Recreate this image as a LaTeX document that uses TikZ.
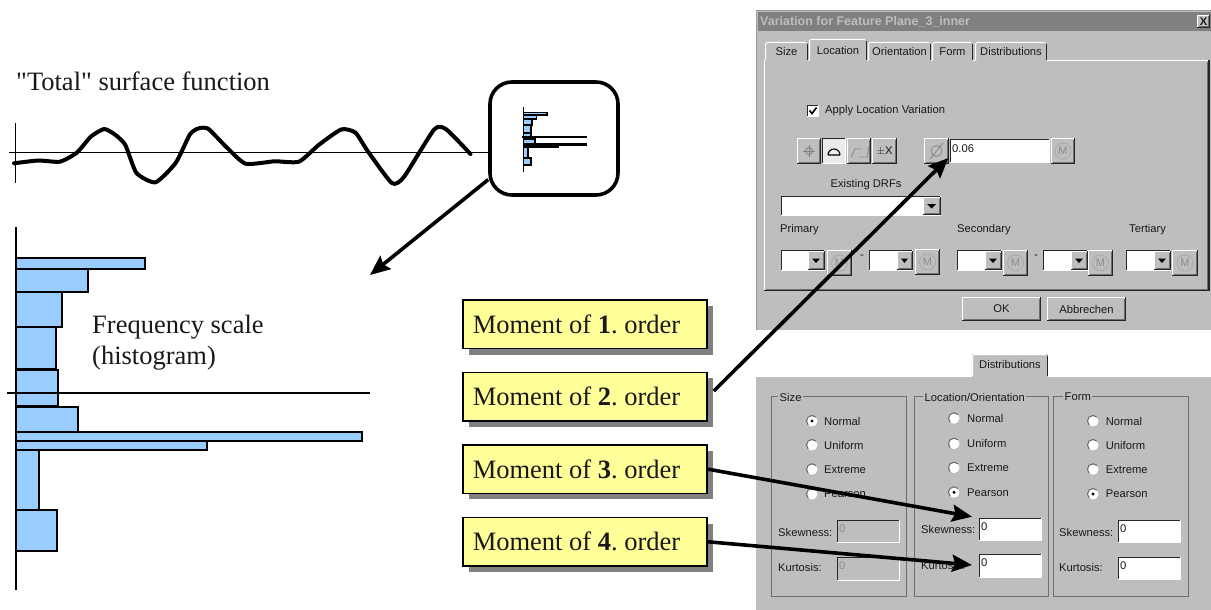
\documentclass[tikz,border=0pt]{standalone}
\usepackage{fontspec}
\setmainfont{Liberation Serif}
\newfontfamily\plainserif{Liberation Serif}[Ligatures=ResetAll]
\newfontfamily\guifont{Liberation Sans}
\usetikzlibrary{arrows.meta,shadows,calc}
\definecolor{panelgray}{HTML}{BEBEBE}
\definecolor{darkedge}{HTML}{6E6E6E}
\definecolor{barblue}{HTML}{99CCFF}
\definecolor{noteyellow}{HTML}{FFFF99}
\definecolor{titlegray}{HTML}{808080}
\definecolor{shadowgray}{HTML}{808080}
\definecolor{disabledgray}{HTML}{8C8C8C}
\newcounter{gn}
\frenchspacing
\tikzset{
  guitext/.style={font=\guifont\fontsize{11.2}{13}\selectfont,text=black!90,inner sep=0pt,anchor=west},
  bigtext/.style={font=\fontsize{26.5}{31}\selectfont,inner sep=0pt,anchor=base west,text=black!90},
  notebox/.style={draw=black,line width=1.7pt,fill=noteyellow,minimum width=244pt,minimum height=48.5pt,
    text width=225pt,inner sep=0pt,align=flush left,font=\fontsize{26.5}{31}\selectfont\frenchspacing,text=black!90,
    text height=18pt,text depth=0pt,
    general shadow={fill=shadowgray,shadow xshift=6pt,shadow yshift=-6pt}},
  bigarrow/.style={line width=3.6pt,-{Stealth[length=20pt,width=17pt,inset=3pt]},black},
  histbar/.style={draw=black,fill=barblue},
}
% GUI helpers: raised box, sunken field, text, radio, M button, combo
\newcommand\gtxt[2]{\stepcounter{gn}\node[guitext] (g\arabic{gn}) at (#1) {#2};}
\newcommand\gtxtc[2]{\stepcounter{gn}\node[guitext,anchor=center] (g\arabic{gn}) at (#1) {#2};}
\newcommand\raisedbox[4]{%
  \fill[panelgray] (#1,#2) rectangle (#3,#4);
  \draw[white,line width=1pt] (#1+.5,#4-.5) -- (#1+.5,#2+.5) -- (#3-.5,#2+.5);
  \draw[black!85,line width=1.2pt] (#1,#4-.5) -- (#3-.5,#4-.5) -- (#3-.5,#2);
  \draw[darkedge,line width=1pt] (#1+1.5,#4-1.6) -- (#3-1.6,#4-1.6) -- (#3-1.6,#2+1.5);
}
\newcommand\sunkbox[5][white]{%
  \fill[#1] (#2,#3) rectangle (#4,#5);
  \draw[black!85,line width=1.2pt] (#2+.5,#5-.5) -- (#2+.5,#3+.5) -- (#4-.5,#3+.5);
  \draw[white,line width=1pt] (#2,#5-.5) -- (#4-.5,#5-.5) -- (#4-.5,#3);
}
\newcommand\mbutton[4]{%
  \raisedbox{#1}{#2}{#3}{#4}
  \draw[black!35,line width=.7pt] ({(#1+#3)/2},{(#2+#4)/2}) circle (8);
  \stepcounter{gn}\node[guitext,anchor=center,text=black!45,font=\guifont\fontsize{11}{13}\selectfont] (g\arabic{gn}) at ({(#1+#3)/2},{(#2+#4)/2}) {M};
}
\newcommand\combo[5]{% x1 y1 x2 y2 arrow-left
  \sunkbox{#1}{#2}{#3}{#4}
  \raisedbox{#5}{#2+1}{#3}{#4-1}
  \fill[black] (#5+4,{(#2+#4)/2-2}) -- (#3-5,{(#2+#4)/2-2}) -- ({(#5+#3)/2-.5},{(#2+#4)/2+2.5}) -- cycle;
}
\newcommand\radio[3]{% x y selected
  \fill[white] (#1,#2) circle (5.5);
  \draw[darkedge,line width=1.1pt] (#1-3.9,#2+3.9) arc[start angle=135,end angle=315,radius=5.5];
  \ifnum#3=1 \fill[black] (#1,#2) circle (1.7); \fi
}
\newcommand\groupbox[4]{%
  \draw[white,line width=.8pt] (#1+.8,#2+.8) rectangle (#3+.8,#4+.8);
  \draw[darkedge,line width=.8pt] (#1,#2) rectangle (#3,#4);
}
\newcommand\grouptitle[2]{\stepcounter{gn}\node[guitext,fill=panelgray,inner xsep=1.5pt] (g\arabic{gn}) at (#1) {#2};}
\newcommand\histogram[1]{%
  \foreach \ya/\yb/\xr in {258/269.3/145.3,269.3/291.7/88.3,291.7/327.3/61.7,327.3/369/55.7,370/406/58.3,406.7/432/77.7,432/441.3/361.7,441.3/450.3/206.7,450.3/510/39.3,510/551/56.7}
    {\draw[histbar,line width=#1] (16,\ya) rectangle (\xr,\yb);}
  \draw[black,line width=1.8pt] (16,227) -- (16,590);
  \draw[black,line width=1.8pt] (7,392.7) -- (370,392.7);
}
\begin{document}
\begin{tikzpicture}[x=1pt,y=-1pt]
\useasboundingbox (0,0) rectangle (1211,610);
\fill[white] (0,0) rectangle (1211,610);

% ---------- dialog 1
\fill[panelgray] (756,11) rectangle (1211,330);
\draw[darkedge!70,line width=1pt] (756.5,330) -- (756.5,11) -- (1211,11);
\fill[titlegray] (758,12.5) rectangle (1211,31);
\stepcounter{gn}\node[guitext,text=panelgray,font=\guifont\bfseries\fontsize{12.5}{14}\selectfont] (g\arabic{gn}) at (760,21.5) {Variation for Feature Plane\_3\_inner};
\raisedbox{1197}{15}{1210}{28}
\gtxtc{1203.5,21.5}{\textbf{X}}
% panel
\draw[white,line width=1pt] (764.5,290.5) -- (764.5,60.5) -- (1209,60.5);
\draw[black!85,line width=1.2pt] (764,290.5) -- (1209,290.5) -- (1209,60);
\draw[darkedge,line width=1pt] (766,289) -- (1207.5,289) -- (1207.5,62);
% tabs
\foreach \xa/\xb/\yt/\lab in {765/808/42/Size,868/931/42/Orientation,932/973/42/Form,975/1047/42/Distributions,809/867/39/Location}{
  \fill[panelgray] (\xa,\yt) rectangle (\xb,61);
  \draw[white,line width=1pt] (\xa+.5,60.5) -- (\xa+.5,\yt+2) -- (\xa+2,\yt+.5) -- (\xb-2,\yt+.5);
  \draw[black!85,line width=1.2pt] (\xb-.5,\yt+2) -- (\xb-.5,60);
  \gtxtc{{(\xa+\xb)/2},{(\yt+60)/2+.5}}{\lab}
}
% apply checkbox
\sunkbox{807}{105}{819}{117}
\draw[black,line width=1.6pt] (809.5,110.5) -- (812,113.5) -- (816.5,107.5);
\gtxt{825,111}{Apply Location Variation}
% tool buttons
\raisedbox{797}{138}{821}{164}
\raisedbox{847}{138}{871}{164}
\raisedbox{872}{138}{897}{164}
\fill[black!8] (822,138) rectangle (846,164);
\draw[black!85,line width=1.2pt] (822.5,164) -- (822.5,138.5) -- (846,138.5);
\draw[white,line width=1pt] (822,163.5) -- (845.5,163.5) -- (845.5,138);
% icons
\draw[black!50,line width=.8pt] (809,145) -- (809,157) (803,151) -- (815,151);
\draw[black!50,line width=.8pt] (809,151) circle (3.5);
\draw[black,line width=1.1pt] (828,155) -- (840,155) (828,155) arc[start angle=180,end angle=360,radius=6];
\draw[black!45,line width=.9pt] (851,157) -- (855,149) -- (862,149) (859,157) -- (867,157) -- (869,146);
\gtxtc{884.5,151}{$\pm$X}
% diameter + field + M
\raisedbox{924}{138}{949}{164}
\draw[black!45,line width=.9pt] (936.5,151) circle (5.5);
\draw[black!45,line width=.9pt] (930,159) -- (943,143);
\sunkbox{950}{139}{1050}{163}
\gtxt{952,149}{0.06}
\mbutton{1051}{138}{1075}{164}
% DRFs
\gtxtc{866,185}{Existing DRFs}
\combo{781}{196}{941}{216}{923}
\gtxt{780,230}{Primary}
\gtxt{957,230}{Secondary}
\gtxt{1129,230}{Tertiary}
\combo{781}{250}{825}{271}{808}
\mbutton{827}{250}{852}{276}
\gtxtc{862,257}{-}
\combo{869}{250}{913}{271}{897}
\mbutton{915}{249}{940}{275}
\combo{957}{250}{1002}{271}{985}
\mbutton{1003}{250}{1028}{276}
\gtxtc{1036,257}{-}
\combo{1043}{250}{1088}{271}{1071}
\mbutton{1088}{250}{1113}{276}
\combo{1126}{250}{1171}{271}{1154}
\mbutton{1172}{250}{1198}{276}
\raisedbox{962}{297}{1041}{321}
\gtxtc{1001.5,309}{OK}
\raisedbox{1047}{297}{1126}{321}
\gtxtc{1086.5,309}{Abbrechen}

% ---------- dialog 2
\fill[panelgray] (756,376) rectangle (1211,610);
\draw[white,line width=1pt] (756,376.5) -- (972,376.5) (1048,376.5) -- (1211,376.5);
\fill[panelgray] (972,354) rectangle (1048,377);
\draw[white,line width=1pt] (972.5,376) -- (972.5,356) -- (974,354.5) -- (1046,354.5);
\draw[black!85,line width=1.2pt] (1047.5,356) -- (1047.5,376);
\gtxtc{1010,364}{Distributions}
\groupbox{771}{396}{906}{596}
\groupbox{914}{396}{1048}{596}
\groupbox{1053}{396}{1188}{596}
\grouptitle{778,397}{Size}
\grouptitle{923,397}{Location/Orientation}
\grouptitle{1063,397}{Form}
\foreach \y/\s/\lab in {421/1/Normal,445/0/Uniform,469.3/0/Extreme,494/0/Pearson}{
  \radio{812}{\y}{\s}
  \gtxt{824,\y}{\lab}
}
\foreach \y/\s/\lab in {418.3/0/Normal,443.7/0/Uniform,467.7/0/Extreme,492.3/1/Pearson}{
  \radio{954}{\y}{\s}
  \gtxt{967,\y}{\lab}
}
\foreach \y/\s/\lab in {421/0/Normal,445/0/Uniform,469.3/0/Extreme,494/1/Pearson}{
  \radio{1093}{\y}{\s}
  \gtxt{1105.7,\y}{\lab}
}
\gtxt{778,532}{Skewness:}
\gtxt{778,567}{Kurtosis:}
\sunkbox[panelgray]{837}{520}{900}{543}
\sunkbox[panelgray]{837}{557}{900}{581}
\stepcounter{gn}\node[guitext,text=disabledgray] (g\arabic{gn}) at (839,529) {0};
\stepcounter{gn}\node[guitext,text=disabledgray] (g\arabic{gn}) at (839,566) {0};
\gtxt{921,529}{Skewness:}
\gtxt{921,565}{Kurtosis:}
\sunkbox{979}{518}{1042}{541}
\sunkbox{979}{554}{1042}{578}
\gtxt{981,527}{0}
\gtxt{981,563}{0}
\gtxt{1059,532}{Skewness:}
\gtxt{1059,567}{Kurtosis:}
\sunkbox{1118}{520}{1181}{543}
\sunkbox{1118}{557}{1181}{580}
\gtxt{1120,529}{0}
\gtxt{1120,566}{0}

% ---------- left: surface function
\node[bigtext] (surftitle) at (16,91) {\plainserif "Total" surface function};
\draw[black,line width=1.8pt] (15.5,122.5) -- (15.5,183);
\draw[black,line width=1.8pt] (9,152.4) -- (494,152.4);
\draw[black,line width=4pt,line join=round,line cap=round]
  plot[smooth,tension=.35] coordinates {(14,163.3) (38.4,160.5) (59.8,161.7) (76.7,152.8) (90.9,136.6) (104.2,129) (115,134.6) (125.2,144.7) (136.5,173) (155.5,182.3) (175.7,162.9) (189.8,134.6) (197.9,128.6) (208,128.6) (226,146.7) (245.6,163.7) (274.6,161.3) (298.9,161.7) (319,144.7) (341.3,129.4) (355.4,132.6) (367.5,150.8) (391.8,183) (403.9,177) (434.2,129.4) (446.3,129.4) (470.5,154)};

\node[draw=black,line width=3.6pt,fill=white,rounded corners=22pt,minimum width=128pt,minimum height=113pt] (surfbox) at (554,138.5) {};
\begin{scope}[shift={(520.62,66.14)},x=0.18pt,y=-0.18pt]
  \histogram{1.8pt}
\end{scope}

% ---------- histogram
\histogram{1.9pt}
\node[bigtext] (freq1) at (92,333) {Frequency scale};
\node[bigtext] (freq2) at (92,364) {(histogram)};
\coordinate (histtip) at (370,275);
\draw[bigarrow] (surfbox.212.6) -- (histtip);

% ---------- moment boxes
\node[notebox] (m1) at (585.3,324.3) {Moment of \textbf{1}. order};
\node[notebox] (m2) at (585.3,396.6) {Moment of \textbf{2}. order};
\node[notebox] (m3) at (585.3,469.2) {Moment of \textbf{3}. order};
\node[notebox] (m4) at (585.3,541.8) {Moment of \textbf{4}. order};
\coordinate (difftip) at (948.3,158);
\coordinate (skewtip) at (972,516.7);
\coordinate (kurttip) at (972,565);
\draw[bigarrow,shorten <=8pt] (m2.east) -- (difftip);
\draw[bigarrow] (m3.east) -- (skewtip);
\draw[bigarrow] (m4.east) -- (kurttip);
\end{tikzpicture}
\end{document}
